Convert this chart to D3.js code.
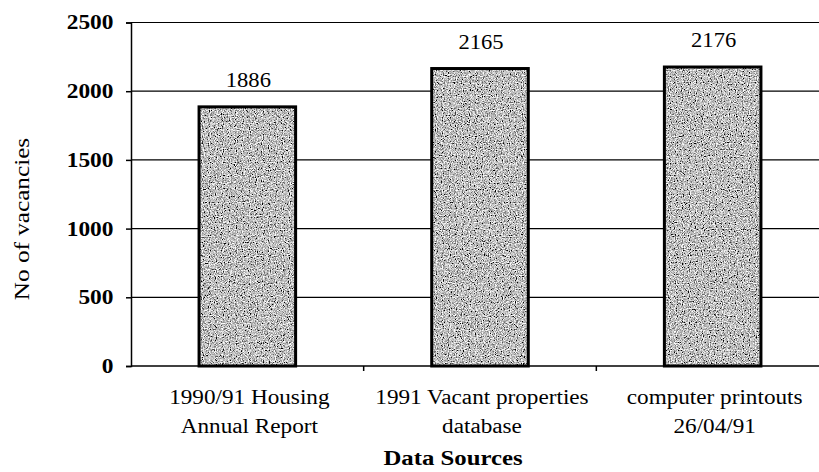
<!DOCTYPE html>
<html lang="en">
<head>
	<meta charset="UTF-8">
	<title>Vacancies by data source</title>
	<style>
		body { margin: 0; background: #fff; }
		text { font-family: "Liberation Serif", "Times New Roman", serif; fill: #000; }
	</style>
</head>
<body>
	<script src="https://cdn.jsdelivr.net/npm/d3@7"></script>
	<script>
		var categories = [
			["1990/91 Housing", "Annual Report"],
			["1991 Vacant properties", "database"],
			["computer printouts", "26/04/91"]
		];
		var vacancies = [1886, 2165, 2176];
		var yTicks = [0, 500, 1000, 1500, 2000, 2500];

		var width = 819,
			height = 472,
			plotLeft = 131,
			plotRight = 829,
			plotTop = 22.5,
			plotBottom = 366;

		var svg = d3.select("body").append("svg")
			.attr("width", width)
			.attr("height", height);

		// the scanned lettering is a bit wider than the font
		function wide(px, py, k) {
			return "translate(" + px + "," + py + ") scale(" + k + ",1)";
		}

		// speckled grey fill, like the scanned print
		var defs = svg.append("defs");
		var f = defs.append("filter")
			.attr("id", "speckle")
			.attr("x", 0).attr("y", 0).attr("width", 1).attr("height", 1);
		f.append("feTurbulence")
			.attr("type", "fractalNoise")
			.attr("baseFrequency", 0.85)
			.attr("numOctaves", 2)
			.attr("seed", 4)
			.attr("result", "noise");
		f.append("feColorMatrix")
			.attr("in", "noise")
			.attr("type", "matrix")
			.attr("values", "0 0 0 0 0  0 0 0 0 0  0 0 0 0 0  2.2 0 0 0 -0.62")
			.attr("result", "dots");
		f.append("feFlood").attr("flood-color", "#fff").attr("result", "white");
		f.append("feComposite").attr("in", "dots").attr("in2", "white").attr("operator", "over").attr("result", "mix");
		f.append("feComposite").attr("in", "mix").attr("in2", "SourceGraphic").attr("operator", "in");

		var x = d3.scaleBand()
			.domain(d3.range(categories.length))
			.range([plotLeft, plotRight])
			.paddingInner(0.585)
			.paddingOuter(0.2925);

		var y = d3.scaleLinear()
			.domain([0, 2500])
			.range([plotBottom, plotTop]);

		// gridlines
		svg.append("g")
			.selectAll("line")
			.data(yTicks.filter(function(d){ return d > 0; }))
			.enter()
			.append("line")
			.attr("x1", plotLeft)
			.attr("x2", width)
			.attr("y1", function(d){ return y(d); })
			.attr("y2", function(d){ return y(d); })
			.attr("stroke", "#000")
			.attr("stroke-width", 1.2);

		// bars
		svg.append("g")
			.selectAll("rect")
			.data(vacancies)
			.enter()
			.append("rect")
			.attr("x", function(d, i){ return x(i); })
			.attr("y", function(d){ return y(d); })
			.attr("width", x.bandwidth())
			.attr("height", function(d){ return plotBottom - y(d); })
			.attr("fill", "#fff")
			.attr("filter", "url(#speckle)");

		svg.append("g")
			.selectAll("rect")
			.data(vacancies)
			.enter()
			.append("rect")
			.attr("x", function(d, i){ return x(i); })
			.attr("y", function(d){ return y(d); })
			.attr("width", x.bandwidth())
			.attr("height", function(d){ return plotBottom - y(d); })
			.attr("fill", "none")
			.attr("stroke", "#000")
			.attr("stroke-width", 3);

		// value labels
		svg.append("g")
			.selectAll("text")
			.data(vacancies)
			.enter()
			.append("text")
			.attr("transform", function(d, i){
				return wide(x(i) + x.bandwidth() / 2 + 1, y(d) - 20, 1.13);
			})
			.attr("text-anchor", "middle")
			.attr("font-size", 20)
			.text(function(d){ return d; });

		// y axis
		var yAxis = d3.axisLeft(y)
			.tickValues(yTicks)
			.tickSize(5)
			.tickPadding(10)
			.tickFormat(d3.format("d"));

		var gy = svg.append("g")
			.attr("transform", "translate(" + plotLeft + ",0)")
			.call(yAxis);
		gy.selectAll("text")
			.attr("font-size", 20)
			.attr("font-family", "Liberation Serif")
			.attr("font-weight", "bold")
			.attr("transform", "scale(1.17,1)");
		gy.selectAll("line, path").attr("stroke", "#000").attr("stroke-width", 1.5);

		// x axis, ticks at band boundaries
		var bounds = d3.range(categories.length + 1).map(function(i){
			return plotLeft + i * (plotRight - plotLeft) / categories.length;
		});
		svg.append("line")
			.attr("x1", plotLeft).attr("x2", width)
			.attr("y1", plotBottom).attr("y2", plotBottom)
			.attr("stroke", "#000").attr("stroke-width", 1.5);
		svg.append("g")
			.selectAll("line")
			.data(bounds.slice(1))
			.enter()
			.append("line")
			.attr("x1", function(d){ return d; })
			.attr("x2", function(d){ return d; })
			.attr("y1", plotBottom)
			.attr("y2", plotBottom + 5)
			.attr("stroke", "#000")
			.attr("stroke-width", 1.5);

		var cat = svg.append("g")
			.selectAll("text")
			.data(categories)
			.enter()
			.append("text")
			.attr("transform", function(d, i){
				return wide(x(i) + x.bandwidth() / 2 + 2, 404, 1.16);
			})
			.attr("text-anchor", "middle")
			.attr("font-size", 20);
		cat.selectAll("tspan")
			.data(function(d){ return d; })
			.enter()
			.append("tspan")
			.attr("x", 0)
			.attr("y", function(d, j){ return j * 29; })
			.text(function(d){ return d; });

		// axis titles
		svg.append("text")
			.attr("transform", wide(453, 465, 1.18))
			.attr("text-anchor", "middle")
			.attr("font-size", 21)
			.attr("font-weight", "bold")
			.text("Data Sources");

		svg.append("text")
			.attr("transform", "translate(29,219) rotate(-90) scale(1.2,1)")
			.attr("text-anchor", "middle")
			.attr("font-size", 21)
			.text("No of vacancies");
	</script>
</body>
</html>
